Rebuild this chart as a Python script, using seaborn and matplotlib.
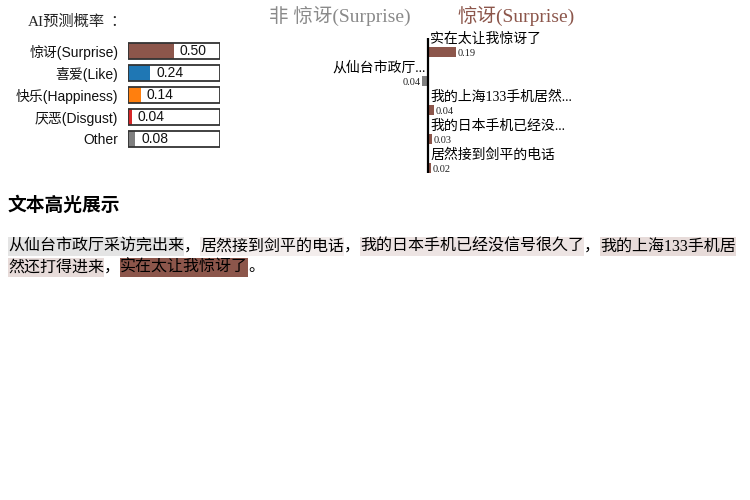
import matplotlib
matplotlib.use("Agg")
import matplotlib.pyplot as plt
import seaborn as sns
import pandas as pd
from matplotlib.patches import Rectangle
from matplotlib.font_manager import FontProperties
from matplotlib.colors import to_rgb

# ---------------- data ----------------
class_names = ["惊讶(Surprise)", "喜爱(Like)", "快乐(Happiness)", "厌恶(Disgust)", "Other"]
class_probs = [0.50, 0.24, 0.14, 0.04, 0.08]
class_colors = ["#8c564b", "#1f77b4", "#ff7f0e", "#d62728", "#7f7f7f"]

feature_labels = ["实在太让我惊讶了", "从仙台市政厅...", "我的上海133手机居然...",
                  "我的日本手机已经没...", "居然接到剑平的电话"]
feature_weights = [0.19, -0.04, 0.04, 0.03, 0.02]

text_segments = ["从仙台市政厅采访完出来", "，", "居然接到剑平的电话", "，",
                 "我的日本手机已经没信号很久了", "，", "我的上海133手机居然还打得进来",
                 "，", "实在太让我惊讶了", "。"]
segment_weights = [-0.04, 0.0, 0.02, 0.0, 0.03, 0.0, 0.04, 0.0, 0.19, 0.0]

pos_color = "#8c564b"
neg_color = "#7f7f7f"

# ---------------- style ----------------
sns.set_theme(style="white")
SERIF = ["Liberation Serif", "Noto Sans CJK SC", "DejaVu Sans"]
SANS = ["Liberation Sans", "Noto Sans CJK SC", "DejaVu Sans"]
plt.rcParams["font.family"] = SERIF

W, H = 750, 500
fig = plt.figure(figsize=(7.5, 5), dpi=100)
fig.patch.set_facecolor("white")


def fx(px):
    return px / W


def fy(py):
    return 1 - py / H


renderer = fig.canvas.get_renderer()


def width_px(s, fam=SERIF, size=11.5):
    w, h, d = renderer.get_text_width_height_descent(
        s, FontProperties(family=fam, size=size), ismath=False)
    return w


# ---------------- prediction probabilities ----------------
title_main, title_colon = "AI预测概率", "："
fig.text(fx(28), fy(22), title_main, ha="left", va="center", fontsize=11, family=SERIF)
fig.text(fx(28 + width_px(title_main, SERIF, 11) + 5), fy(22), title_colon, ha="left",
         va="center", fontsize=11, family=SERIF)

ax1 = fig.add_axes([fx(128), fy(150), fx(92), 110 / H])
df1 = pd.DataFrame({"cls": class_names, "p": class_probs})
sns.barplot(data=df1, x="p", y="cls", hue="cls", palette=class_colors, legend=False,
            orient="h", width=0.77, ax=ax1, saturation=1, edgecolor="none")
sns.barplot(data=df1.assign(full=1.0), x="full", y="cls", orient="h", width=0.77, ax=ax1,
            fill=False, edgecolor="#333333", linewidth=1.3, saturation=1)
ax1.set_xlim(0, 1)
ax1.set_ylim(4.5, -0.5)
for s in ax1.spines.values():
    s.set_visible(False)
ax1.set_xticks([])
ax1.set_xlabel("")
ax1.set_ylabel("")
ax1.tick_params(axis="y", length=0, pad=7)
for lab in ax1.get_yticklabels():
    lab.set_family(SANS)
    lab.set_fontsize(10)
    lab.set_color("#111111")
for i, p in enumerate(class_probs):
    ax1.text(p + 0.065, i, f"{p:.2f}", ha="left", va="center", fontsize=10,
             family=SANS, color="#111111")

# ---------------- feature weights ----------------
fig.text(fx(340), fy(16), "非 惊讶(Surprise)", ha="center", va="center", fontsize=14,
         color="#8a8a8a", family=SERIF)
fig.text(fx(516), fy(16), "惊讶(Surprise)", ha="center", va="center", fontsize=14,
         color=pos_color, family=SERIF)

ax2 = fig.add_axes([fx(300), fy(182.5), fx(300), 145 / H])
df2 = pd.DataFrame({"feat": feature_labels, "w": feature_weights})
bar_cols = [pos_color if w > 0 else neg_color for w in feature_weights]
sns.barplot(data=df2, x="w", y="feat", hue="feat", palette=bar_cols, legend=False,
            orient="h", width=0.345, ax=ax2, saturation=1, edgecolor="none")
ax2.set_xlim(-128 / 147, 172 / 147)
ax2.set_ylim(4.5, -0.5)
for s in ax2.spines.values():
    s.set_visible(False)
ax2.set_xticks([])
ax2.set_yticks([])
ax2.set_xlabel("")
ax2.set_ylabel("")
ax2.vlines(0, -0.55, len(feature_weights) - 1 + 0.345 / 2, color="black", lw=1.6)
for i, (lab, w) in enumerate(zip(feature_labels, feature_weights)):
    sgn = 1 if w > 0 else -1
    ha = "left" if w > 0 else "right"
    ax2.annotate(lab, xy=(0, i), xytext=(1.5 * sgn, 9.4), textcoords="offset points",
                 ha=ha, va="center", fontsize=10, family=SERIF, color="black")
    ax2.annotate(f"{abs(w):.2f}", xy=(w, i), xytext=(1 * sgn, -1), textcoords="offset points",
                 ha=ha, va="center", fontsize=7.5, family=SERIF, color="#222222")

# ---------------- highlighted text ----------------
fig.text(fx(8), fy(205), "文本高光展示", ha="left", va="center", fontsize=13.5,
         fontweight="bold", family=["Noto Sans CJK SC", "DejaVu Sans"], color="black")

fsize = 11.5
max_w = max(abs(w) for w in segment_weights)
x0, xmax = 8.0, 745.0
line_pitch = 21.0
first_line_y = 246.5
line = 0
x = x0
runs = []  # (line, x, text, weight)
for seg, w in zip(text_segments, segment_weights):
    cur = ""
    start = x
    for ch in seg:
        if start + width_px(cur + ch, SERIF, fsize) > xmax:
            if cur:
                runs.append((line, start, cur, w))
            line += 1
            start = x0
            cur = ch
        else:
            cur += ch
    runs.append((line, start, cur, w))
    x = start + width_px(cur, SERIF, fsize)

for ln, sx, txt, w in runs:
    yc = first_line_y + line_pitch * ln
    tw = width_px(txt, SERIF, fsize)
    if w != 0:
        base = to_rgb(pos_color if w > 0 else neg_color)
        a = abs(w) / max_w
        col = tuple(1 - a * (1 - c) for c in base)
        fig.patches.append(Rectangle((fx(sx), fy(yc + 9.5)), fx(tw), 19 / H,
                                     transform=fig.transFigure, facecolor=col,
                                     edgecolor="none", zorder=0))
    fig.text(fx(sx), fy(yc), txt, ha="left", va="center", fontsize=fsize,
             family=SERIF, color="black", zorder=2)

fig.savefig("out.png", dpi=100)
